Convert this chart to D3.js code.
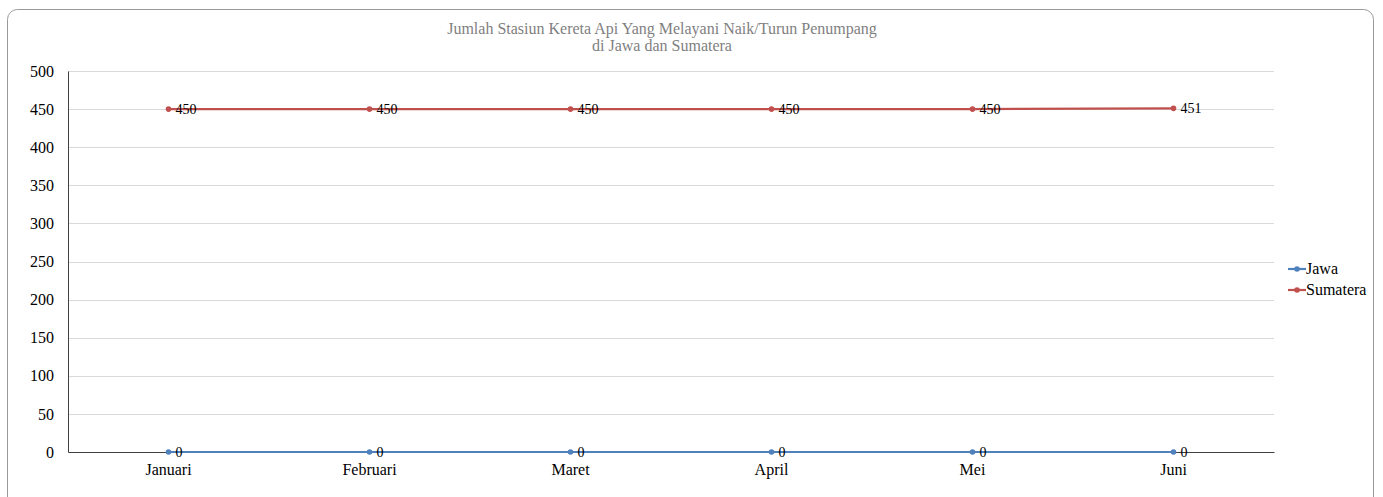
<!DOCTYPE html>
<html>
<head>
<meta charset="utf-8">
<script src="https://cdn.jsdelivr.net/npm/d3@7"></script>
<style>
  body { margin: 0; background: #fff; }
  text { font-family: "Liberation Serif", "Times New Roman", serif; }
</style>
</head>
<body>
<svg id="chart" width="1383" height="497"></svg>
<script>
var months = ["Januari", "Februari", "Maret", "April", "Mei", "Juni"];
var jawa = [0, 0, 0, 0, 0, 0];
var sumatera = [450, 450, 450, 450, 450, 451];
var yTicks = [0, 50, 100, 150, 200, 250, 300, 350, 400, 450, 500];
var titleLines = ["Jumlah Stasiun Kereta Api Yang Melayani Naik/Turun Penumpang", "di Jawa dan Sumatera"];

var series = [
  { name: "Jawa", values: jawa, color: "#4f81bd" },
  { name: "Sumatera", values: sumatera, color: "#c0504d" }
];

var svg = d3.select("#chart");
var plotLeft = 68, plotRight = 1274, plotTop = 71, plotBottom = 452;

// bingkai
svg.append("rect")
  .attr("x", 7.5).attr("y", 9.5)
  .attr("width", 1366).attr("height", 500)
  .attr("rx", 10)
  .attr("fill", "#fff")
  .attr("stroke", "#9a9a9a");

// judul
svg.append("text")
  .attr("x", 662).attr("y", 34)
  .attr("text-anchor", "middle")
  .attr("fill", "#7f7f7f")
  .style("font-size", "16px")
  .selectAll("tspan")
  .data(titleLines)
  .enter()
  .append("tspan")
  .attr("x", 662)
  .attr("dy", function (d, i) { return i ? 17 : 0; })
  .text(function (d) { return d; });

var x = d3.scaleBand().domain(months).range([plotLeft, plotRight]);
var y = d3.scaleLinear().domain([0, 500]).range([plotBottom, plotTop]);

// garis bantu
svg.append("g")
  .selectAll("line")
  .data(yTicks.filter(function (d) { return d > 0; }))
  .enter()
  .append("line")
  .attr("x1", plotLeft).attr("x2", plotRight)
  .attr("y1", function (d) { return Math.round(y(d)) + 0.5; })
  .attr("y2", function (d) { return Math.round(y(d)) + 0.5; })
  .attr("stroke", "#d9d9d9");

// sumbu y
var yAxis = svg.append("g")
  .attr("transform", "translate(" + plotLeft + ",0)")
  .call(d3.axisLeft(y).tickValues(yTicks).tickSize(0).tickPadding(14));
yAxis.select(".domain").attr("stroke", "#404040");
yAxis.selectAll("text").style("font-size", "16px").attr("fill", "#000")
  .style("font-family", "Liberation Serif");

// sumbu x
var xAxis = svg.append("g")
  .attr("transform", "translate(0," + plotBottom + ")")
  .call(d3.axisBottom(x).tickSize(0).tickPadding(12));
xAxis.select(".domain").attr("stroke", "#404040");
xAxis.selectAll("text").style("font-size", "16px").attr("fill", "#000")
  .style("font-family", "Liberation Serif");

var cx = function (d, i) { return x(months[i]) + x.bandwidth() / 2; };
var line = d3.line()
  .x(function (d, i) { return cx(d, i); })
  .y(function (d) { return y(d); });

series.forEach(function (s) {
  var g = svg.append("g");
  g.append("path")
    .datum(s.values)
    .attr("d", line)
    .attr("fill", "none")
    .attr("stroke", s.color)
    .attr("stroke-width", 2.2);
  g.selectAll("circle")
    .data(s.values)
    .enter()
    .append("circle")
    .attr("cx", cx)
    .attr("cy", function (d) { return y(d); })
    .attr("r", 2.8)
    .attr("fill", s.color);
  g.selectAll("text")
    .data(s.values)
    .enter()
    .append("text")
    .attr("x", function (d, i) { return cx(d, i) + 7; })
    .attr("y", function (d) { return y(d) + 5; })
    .style("font-size", "14px")
    .attr("fill", "#000")
    .text(function (d) { return d; });
});

// legenda
var legend = svg.append("g")
  .selectAll("g")
  .data(series)
  .enter()
  .append("g")
  .attr("transform", function (d, i) { return "translate(1288," + (269 + i * 21) + ")"; });
legend.append("line")
  .attr("x1", 0).attr("x2", 18)
  .attr("stroke", function (d) { return d.color; })
  .attr("stroke-width", 2.2);
legend.append("circle")
  .attr("cx", 9).attr("r", 2.8)
  .attr("fill", function (d) { return d.color; });
legend.append("text")
  .attr("x", 18).attr("y", 5)
  .style("font-size", "16px")
  .text(function (d) { return d.name; });
</script>
</body>
</html>
